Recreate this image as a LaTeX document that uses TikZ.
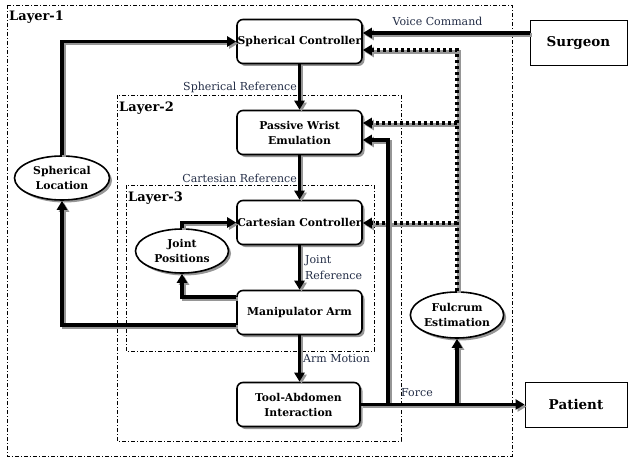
\documentclass[tikz,border=0pt]{standalone}
\usepackage{fontspec}
\setmainfont{DejaVu Serif}
\usetikzlibrary{arrows.meta,shapes.geometric,shadows,calc}
\definecolor{lblcol}{RGB}{35,45,70}
\definecolor{shcol}{RGB}{150,150,150}
\begin{document}
\begin{tikzpicture}[x=1pt,y=-1pt,
  blk/.style={draw, line width=1.6pt, rounded corners=6pt, fill=white,
    minimum width=125pt, minimum height=44pt, align=center, inner sep=0pt,
    font=\fontsize{10.8}{15}\selectfont\bfseries,
    drop shadow={shadow xshift=2.5pt,shadow yshift=-2.5pt,fill=shcol,opacity=1}},
  ell/.style={ellipse, draw, line width=1.6pt, fill=white,
    minimum width=93pt, minimum height=44pt, align=center, inner sep=0pt,
    font=\fontsize{10.8}{15}\selectfont\bfseries,
    drop shadow={shadow xshift=2.5pt,shadow yshift=-2.5pt,fill=shcol,opacity=1}},
  extb/.style={draw, line width=0.8pt, fill=white, minimum height=45pt,
    inner sep=0pt, font=\fontsize{13.5}{15}\selectfont\bfseries},
  layer/.style={line width=0.7pt, dash pattern=on 4pt off 2pt on 1pt off 2pt},
  layerlbl/.style={anchor=west, inner sep=0pt, font=\fontsize{13}{15}\selectfont\bfseries},
  lbl/.style={inner sep=0pt, text=lblcol, font=\fontsize{11}{16}\selectfont},
  tipa/.style={-{Triangle[length=9pt,width=10pt]}},
  conn/.style={line width=3.6pt, tipa,
    preaction={draw=shcol, line width=3.6pt, tipa, transform canvas={xshift=2pt,yshift=-2pt}}},
  dotconn/.style={line width=3.6pt, tipa, dash pattern=on 3.5pt off 2.5pt,
    preaction={draw=shcol, line width=3.6pt, tipa, transform canvas={xshift=2pt,yshift=-2pt}}}
]
\useasboundingbox (0,0) rectangle (629,460);

% layers
\draw[layer] (7,5) rectangle (512,456);
\draw[layer] (117,95) rectangle (401,441);
\draw[layer] (126,185) rectangle (374,351);
\node[layerlbl] (l1) at (9,17) {Layer-1};
\node[layerlbl] (l2) at (119,108) {Layer-2};
\node[layerlbl] (l3) at (128,198) {Layer-3};

% blocks
\node[blk] (sc) at (299.5,41.5) {Spherical Controller};
\node[blk] (pw) at (299.5,132.5) {Passive Wrist\\Emulation};
\node[blk] (cc) at (299.5,222.5) {Cartesian Controller};
\node[blk] (ma) at (299.5,312.5) {Manipulator Arm};
\node[blk, minimum width=123pt] (ta) at (298.5,404.5) {Tool-Abdomen\\Interaction};
\node[ell, minimum width=95pt] (sl) at (62,178) {Spherical\\Location};
\node[ell] (jp) at (182,251) {Joint\\Positions};
\node[ell, minimum height=46pt] (fe) at (457,315) {Fulcrum\\Estimation};
\node[extb, minimum width=97pt] (sg) at (578.5,42.5) {Surgeon};
\node[extb, minimum width=102pt] (pt) at (576,404.5) {Patient};

% main chain
\draw[conn] (sc.south) -- (pw.north);
\draw[conn] (pw.south) -- (cc.north);
\draw[conn] (cc.south) -- (ma.north);
\draw[conn] (ma.south) -- (ma.south |- ta.north);

% voice command
\coordinate (vc) at ($(sg.west)+(0,-9.5)$);
\draw[conn] (vc) -- (vc -| sc.east);

% outer loops
\draw[conn] ($(ma.west)+(0,12.5)$) -| (sl.south);
\draw[conn] (sl.north) |- (sc.west);
\draw[conn] ($(ma.west)+(0,-15.5)$) -| (jp.south);
\draw[conn] (jp.north) |- (cc.west);

% fulcrum feedback (dotted)
\coordinate (fd1) at (fe.north |- 0,123);
\coordinate (fd2) at (fe.north |- 0,223);
\draw[dotconn] (fd1) -- (fd1 -| pw.east);
\draw[dotconn] (fd2) -- (fd2 -| cc.east);
\draw[dotconn] (fe.north) -- (fe.north |- 0,50) -- (sc.east |- 0,50);

% force
\coordinate (fb) at (388,404.5);
\draw[conn] (fb) |- ($(pw.east)+(0,7.5)$);
\draw[conn] (fe.south |- ta.east) -- (fe.south);
\draw[conn] (ta.east) -- (pt.west);

% labels
\node[lbl] (lvc) at (437.5,21) {Voice Command};
\node[lbl, anchor=east] (lsr) at (297,87) {Spherical Reference};
\node[lbl, anchor=east] (lcr) at (297,178) {Cartesian Reference};
\node[lbl, anchor=north west, align=left] (ljr) at (305,255) {Joint\\Reference};
\node[lbl, anchor=west] (lam) at (303,359) {Arm Motion};
\node[lbl, anchor=west] (lfo) at (401,393) {Force};
\end{tikzpicture}
\end{document}
